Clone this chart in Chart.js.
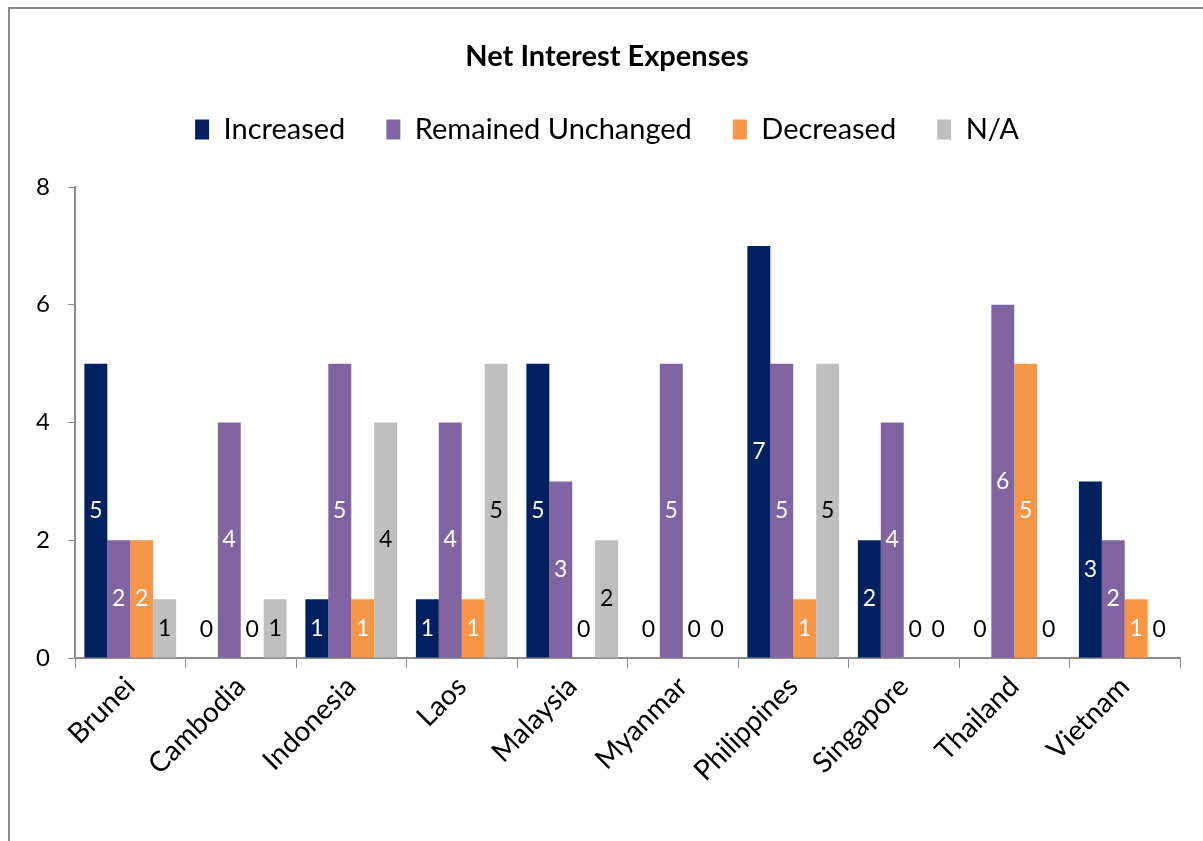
<!DOCTYPE html>
<html>
<head>
<meta charset="utf-8">
<script src="https://cdn.jsdelivr.net/npm/chart.js@4/dist/chart.umd.min.js"></script>
<style>
  html, body { margin: 0; padding: 0; background: #ffffff; }
  #wrap { position: relative; width: 1203px; height: 841px; overflow: hidden; }
  #frame { position: absolute; left: 8px; top: 7px; width: 1300px; height: 1000px; border: 2px solid #8c8c8c; box-sizing: border-box; }
  canvas { position: absolute; left: 0; top: 0; }
</style>
</head>
<body>
<div id="wrap">
  <div id="frame"></div>
  <canvas id="chart" width="1203" height="841"></canvas>
</div>
<script>
const countries = ['Brunei', 'Cambodia', 'Indonesia', 'Laos', 'Malaysia', 'Myanmar', 'Philippines', 'Singapore', 'Thailand', 'Vietnam'];
const increased = [5, 0, 1, 1, 5, 0, 7, 2, 0, 3];
const unchanged = [2, 4, 5, 4, 3, 5, 5, 4, 6, 2];
const decreased = [2, 0, 1, 1, 0, 0, 1, 0, 5, 1];
const notAvailable = [1, 1, 4, 5, 2, 0, 5, 0, 0, 0];
const yTicks = [0, 2, 4, 6, 8];

const FONT = 'Lato, "Open Sans", sans-serif';

// Value labels centred in each bar; zero values sit just above the axis
const barValueLabels = {
  id: 'barValueLabels',
  afterDatasetsDraw(chart) {
    const ctx = chart.ctx;
    ctx.save();
    ctx.font = '23px ' + FONT;
    ctx.textAlign = 'center';
    ctx.textBaseline = 'middle';
    chart.data.datasets.forEach((ds, i) => {
      const meta = chart.getDatasetMeta(i);
      meta.data.forEach((bar, j) => {
        const v = ds.data[j];
        const y = Math.min((bar.y + bar.base) / 2, bar.base - 28);
        ctx.fillStyle = (v === 0) ? '#000000' : ds.labelColor;
        ctx.fillText(String(v), bar.x, y);
      });
    });
    ctx.restore();
  }
};

// Leave extra room between the legend row and the plot area
const legendGap = {
  id: 'legendGap',
  beforeLayout(chart) {
    const lg = chart.legend;
    if (lg && !lg._gapAdded) {
      const baseFit = lg.fit.bind(lg);
      lg.fit = function () {
        baseFit();
        this.height += 33;
      };
      lg._gapAdded = true;
    }
  }
};

new Chart(document.getElementById('chart'), {
  type: 'bar',
  data: {
    labels: countries,
    datasets: [
      { label: 'Increased', data: increased, backgroundColor: '#002060', labelColor: '#ffffff' },
      { label: 'Remained Unchanged', data: unchanged, backgroundColor: '#8064A2', labelColor: '#ffffff' },
      { label: 'Decreased', data: decreased, backgroundColor: '#F79646', labelColor: '#ffffff' },
      { label: 'N/A', data: notAvailable, backgroundColor: '#BFBFBF', labelColor: '#000000' }
    ]
  },
  options: {
    responsive: false,
    animation: false,
    layout: { padding: { left: 34, right: 23, top: 42, bottom: 0 } },
    datasets: { bar: { categoryPercentage: 0.83, barPercentage: 1.0 } },
    plugins: {
      title: {
        display: true,
        text: 'Net Interest Expenses',
        color: '#000000',
        font: { family: FONT, size: 29, weight: 'bold', lineHeight: 1 },
        padding: { top: 0, bottom: 3 }
      },
      legend: {
        display: true,
        position: 'top',
        labels: {
          color: '#000000',
          font: { family: FONT, size: 29 },
          boxWidth: 14,
          boxHeight: 20,
          padding: 41
        }
      },
      tooltip: { enabled: false }
    },
    scales: {
      x: {
        grid: { display: true, drawOnChartArea: false, drawTicks: true, tickLength: 10, color: '#8c8c8c', offset: true },
        border: { display: true, color: '#8c8c8c', width: 2 },
        ticks: {
          color: '#000000',
          font: { family: FONT, size: 28 },
          minRotation: 45,
          maxRotation: 45,
          padding: 2
        },
        afterFit(scale) { scale.height = 841 - 658; }
      },
      y: {
        min: 0,
        max: 8,
        afterBuildTicks(scale) { scale.ticks = yTicks.map(v => ({ value: v })); },
        grid: { display: true, drawOnChartArea: false, drawTicks: true, tickLength: 7, color: '#8c8c8c' },
        border: { display: true, color: '#8c8c8c', width: 2 },
        ticks: {
          color: '#000000',
          font: { family: FONT, size: 24 },
          padding: 18
        },
        afterFit(scale) { scale.width = 75 - 34; }
      }
    }
  },
  plugins: [barValueLabels, legendGap]
});
</script>
</body>
</html>
